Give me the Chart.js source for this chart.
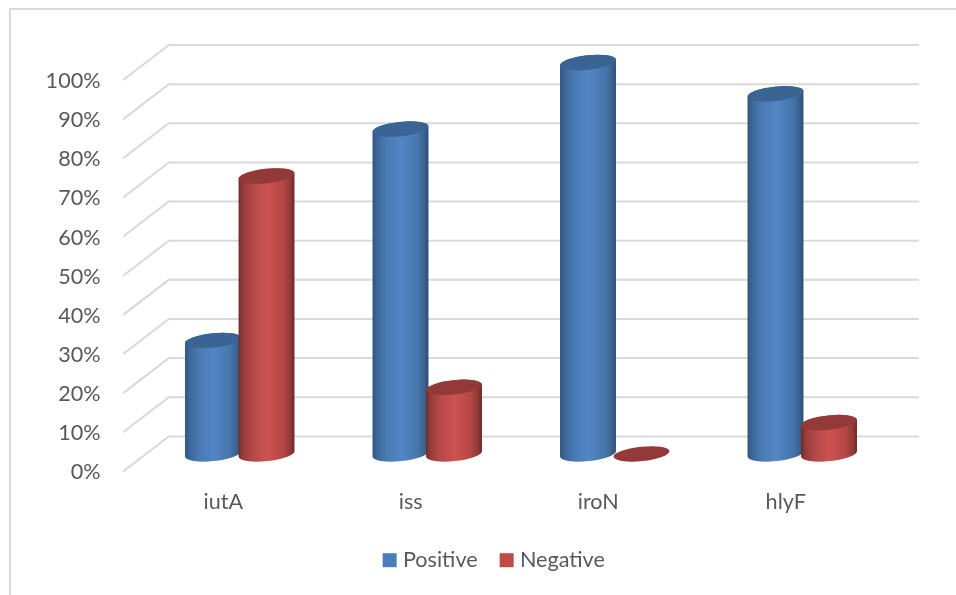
<!DOCTYPE html>
<html>
<head>
<meta charset="utf-8">
<style>html,body{margin:0;padding:0;background:#fff;overflow:hidden}canvas{display:block}</style>
<script src="https://cdn.jsdelivr.net/npm/chart.js@4/dist/chart.umd.min.js"></script>
</head>
<body>
<canvas id="c" width="956" height="595"></canvas>
<script>
const categories = ['iutA', 'iss', 'iroN', 'hlyF'];
const positiveValues = [29, 83, 100, 92];
const negativeValues = [71, 17, 0, 8];
const seriesNames = ['Positive', 'Negative'];
const legendColors = ['#4a7ebb', '#be4b48'];
const topColors = ['#3a6494', '#933937'];
const bodyStops = [
  [[0,'#2f5480'],[0.08,'#3c6698'],[0.25,'#4a7ab3'],[0.52,'#5285c5'],[0.8,'#4776ad'],[0.93,'#3a618f'],[1,'#2b4a70']],
  [[0,'#6f2b29'],[0.08,'#933c39'],[0.25,'#b5494a'],[0.52,'#cb5350'],[0.8,'#b54644'],[0.93,'#8f3a38'],[1,'#672725']]
];
const DEPTH_X = 22.8, DEPTH_Y = 17.5, TILT = -6 * Math.PI / 180, MINOR = 7.2;

const decor = {
  id: 'decor',
  afterLayout(chart) { chart.scales.y.left = 0; },
  beforeDraw(chart) {
    const ctx = chart.ctx, ys = chart.scales.y, xs = chart.scales.x;
    ctx.save();
    ctx.strokeStyle = '#d9d9d9';
    ctx.lineWidth = 2;
    ctx.beginPath();
    ctx.moveTo(10, 595); ctx.lineTo(10, 9); ctx.lineTo(956, 9);
    ctx.stroke();
    ys.ticks.forEach(t => {
      const y = ys.getPixelForValue(t.value);
      ctx.beginPath();
      ctx.moveTo(xs.left - DEPTH_X, y + DEPTH_Y);
      ctx.lineTo(xs.left + DEPTH_X, y - DEPTH_Y);
      ctx.lineTo(xs.right + DEPTH_X, y - DEPTH_Y);
      ctx.stroke();
    });
    ctx.restore();
  },
  beforeDatasetsDraw(chart) {
    const ctx = chart.ctx;
    ctx.save();
    [0, 1].forEach(i => {
      chart.getDatasetMeta(i).data.forEach(bar => {
        const a = bar.width / 2, x = bar.x, top = bar.y, base = bar.base;
        const g = ctx.createLinearGradient(x - a, 0, x + a, 0);
        bodyStops[i].forEach(s => g.addColorStop(s[0], s[1]));
        if (base - top > 0.5) {
          ctx.beginPath();
          ctx.ellipse(x, top, a, MINOR, TILT, Math.PI, 2 * Math.PI);
          ctx.ellipse(x, base, a, MINOR, TILT, 0, Math.PI);
          ctx.closePath();
          ctx.fillStyle = g;
          ctx.fill();
        }
        ctx.beginPath();
        ctx.ellipse(x, top, a, MINOR, TILT, 0, 2 * Math.PI);
        ctx.fillStyle = topColors[i];
        ctx.fill();
      });
    });
    ctx.restore();
    return false;
  }
};

const FONT = { family: 'Lato', size: 21.6 };
new Chart(document.getElementById('c'), {
  type: 'bar',
  data: {
    labels: categories,
    datasets: [
      { label: seriesNames[0], data: positiveValues, backgroundColor: legendColors[0] },
      { label: seriesNames[1], data: negativeValues, backgroundColor: legendColors[1] }
    ]
  },
  plugins: [decor],
  options: {
    responsive: false,
    animation: false,
    devicePixelRatio: 1,
    categoryPercentage: 0.571,
    barPercentage: 1.05,
    layout: { autoPadding: false, padding: { left: 96, right: 60, top: 62.5, bottom: 14 } },
    scales: {
      x: {
        grid: { display: false, drawTicks: false },
        border: { display: false },
        afterFit(s) { s.height = 69; },
        ticks: { color: '#595959', font: FONT, padding: 35, labelOffset: -16.5, maxRotation: 0, autoSkip: false }
      },
      y: {
        min: 0, max: 100,
        grid: { display: false, drawTicks: false },
        border: { display: false },
        afterFit(s) { s.width = 50; },
        ticks: { stepSize: 10, color: '#595959', font: FONT, padding: 45.5, labelOffset: 18.5, callback: v => v + '%' }
      }
    },
    plugins: {
      tooltip: { enabled: false },
      legend: {
        position: 'bottom',
        labels: { color: '#595959', font: FONT, usePointStyle: true, pointStyle: 'rect', boxWidth: 5, boxHeight: 14, padding: 26.5 }
      }
    }
  }
});
</script>
</body>
</html>
